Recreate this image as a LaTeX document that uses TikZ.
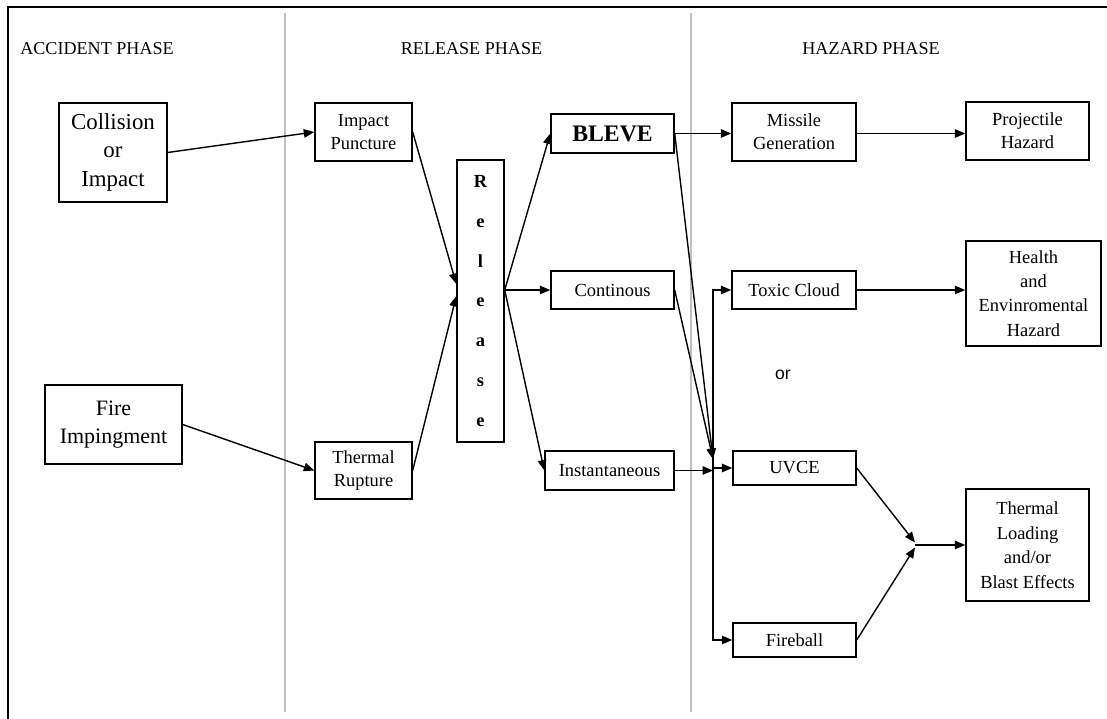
\documentclass[tikz,border=0pt]{standalone}
\usepackage{fontspec}
\setmainfont{Liberation Serif}
\newfontfamily\orfont{Liberation Sans}
\usetikzlibrary{arrows.meta,calc}

\begin{document}
\begin{tikzpicture}[
 box/.style={draw,line width=0.8pt,align=center,inner sep=1pt,font=\fontsize{10.5}{13}\selectfont},
 big/.style={box,font=\fontsize{13}{16}\selectfont},
 phase/.style={font=\fontsize{10.3}{12}\selectfont,inner sep=0pt},
 flow/.style={-{Triangle[length=2.1mm,width=1.7mm]},line width=0.8pt},
 divider/.style={draw=black!25,line width=1pt}
]
\useasboundingbox (0,0) rectangle (22.14,-14.38);
% frame and phase dividers
\draw[line width=1.2pt] (0.16,-14.38) -- (0.16,-0.14) -- (22.14,-0.14);
\draw[divider] (5.70,-0.26) -- (5.70,-14.24);
\draw[divider] (13.82,-0.26) -- (13.82,-14.24);
\node[phase,anchor=west] (accph) at (0.40,-0.97) {ACCIDENT PHASE};
\node[phase] (relph) at (9.43,-0.97) {RELEASE PHASE};
\node[phase] (hazph) at (17.42,-0.97) {HAZARD PHASE};
% accident phase
\node[big,minimum width=2.16cm,minimum height=1.98cm] (coll) at (2.26,-3.05) {Collision\\or\\Impact};
\node[big,font=\fontsize{12.5}{16}\selectfont,minimum width=2.74cm,minimum height=1.58cm] (fire) at (2.27,-8.49) {Fire\\Impingment};
% release phase
\node[box,minimum width=1.94cm,minimum height=1.16cm] (punct) at (7.27,-2.64) {Impact\\Puncture};
\node[box,minimum width=1.94cm,minimum height=1.14cm] (rupt) at (7.27,-9.41) {Thermal\\Rupture};
\node[box,font=\fontsize{10.5}{22.7}\selectfont\bfseries,minimum width=0.94cm,minimum height=5.64cm] (rel) at (9.61,-6.02) {R\\e\\l\\e\\a\\s\\e};
\node[box,font=\fontsize{13.5}{16}\selectfont\bfseries,minimum width=2.46cm,minimum height=0.78cm] (bleve) at (12.25,-2.67) {BLEVE};
\node[box,minimum width=2.46cm,minimum height=0.76cm] (cont) at (12.25,-5.80) {Continous};
\node[box,minimum width=2.58cm,minimum height=0.78cm] (inst) at (12.19,-9.41) {Instantaneous};
% hazard phase
\node[box,minimum width=2.48cm,minimum height=1.16cm] (miss) at (15.88,-2.64) {Missile\\Generation};
\node[box,minimum width=2.46cm,minimum height=1.16cm] (proj) at (20.55,-2.62) {Projectile\\Hazard};
\node[box,minimum width=2.48cm,minimum height=0.76cm] (toxic) at (15.88,-5.80) {Toxic Cloud};
\node[box,font=\fontsize{10.5}{13.8}\selectfont,minimum width=2.70cm,minimum height=2.10cm] (health) at (20.67,-5.87) {Health\\and\\Envinromental\\Hazard};
\node[box,minimum width=2.46cm,minimum height=0.68cm] (uvce) at (15.89,-9.36) {UVCE};
\node[box,minimum width=2.46cm,minimum height=0.68cm] (fball) at (15.89,-12.80) {Fireball};
\node[box,font=\fontsize{10.5}{14}\selectfont,minimum width=2.46cm,minimum height=2.24cm] (blast) at (20.55,-10.90) {Thermal\\Loading\\and/or\\Blast Effects};
\node[font=\orfont\fontsize{10}{12}\selectfont] (or) at (15.66,-7.50) {or};
% junction points
\coordinate (relout) at (rel.east |- cont.west);
\coordinate (relin) at (rel.west |- cont.west);
\coordinate (bus) at (14.26,-9.36);
\coordinate (meet) at (18.30,-10.90);
% connectors
\draw[flow] (coll.east) -- (punct.west);
\draw[flow] (fire.east) -- (rupt.west);
\draw[flow] (punct.east) -- ([yshift=1.2mm]relin);
\draw[flow] (rupt.east) -- ([yshift=-1.2mm]relin);
\draw[flow] (relout) -- (bleve.west);
\draw[flow] (relout) -- (cont.west);
\draw[flow] (relout) -- (inst.west);
\draw[flow] (bleve.east) -- (bleve.east -| miss.west);
\draw[flow] (bleve.east -| miss.east) -- (bleve.east -| proj.west);
\draw[flow] (bleve.east) -- ([yshift=1.8mm]bus);
\draw[flow] (cont.east) -- ([yshift=1.8mm]bus);
\draw[flow] (inst.east) -- (inst.east -| bus);
\draw[flow] (fball.west -| bus) |- (toxic.west);
\draw[flow] (bus) -- (uvce.west);
\draw[flow] (bus) |- (fball.west);
\draw[flow] (toxic.east) -- (toxic.east -| health.west);
\draw[flow] (uvce.east) -- ([yshift=0.5mm]meet);
\draw[flow] (fball.east) -- ([yshift=-0.5mm]meet);
\draw[flow] (meet) -- (blast.west);
\end{tikzpicture}
\end{document}
